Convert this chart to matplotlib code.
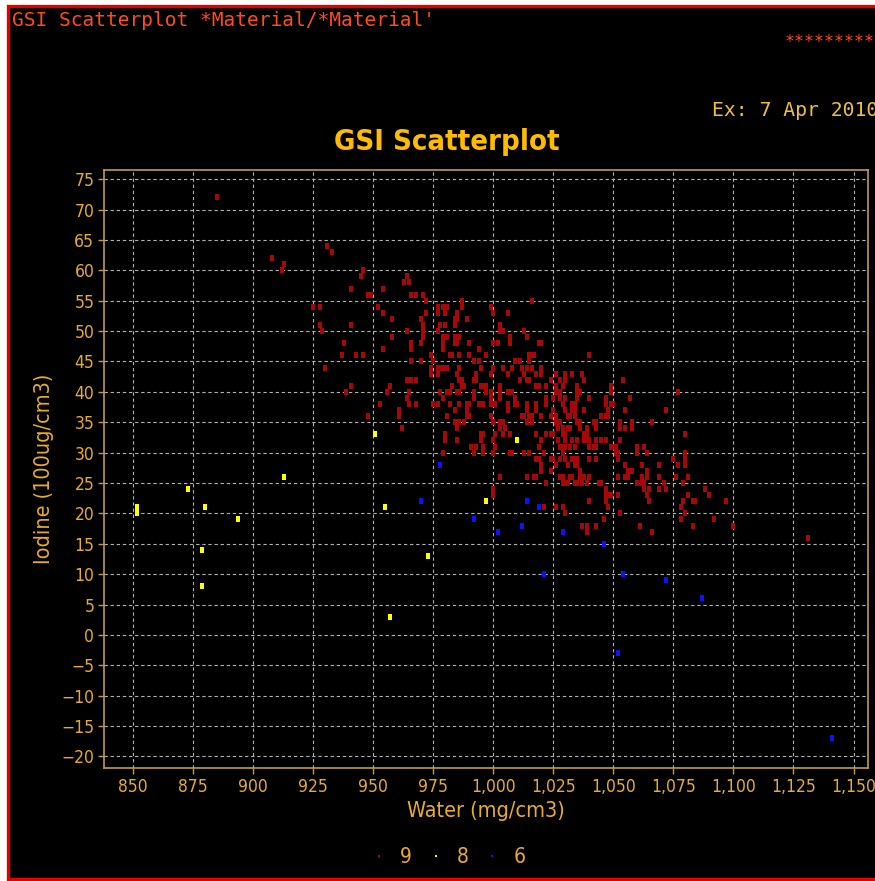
import matplotlib
matplotlib.use("Agg")
import matplotlib.pyplot as plt
from matplotlib.patches import Rectangle
from matplotlib.lines import Line2D
from matplotlib.ticker import FuncFormatter

# series "9" (red)
red_water = [
    885, 931, 933, 908, 913, 912, 946, 945, 941, 954, 948, 949, 925, 928, 952, 954, 958, 928, 929, 941,
    958, 938, 937, 943, 946, 954, 930, 941, 939, 957, 956, 953, 948, 961, 961,
    964, 963, 965, 966, 968, 971, 972, 970, 972, 977, 981, 979, 977, 980, 985, 978, 980, 984, 964, 971,
    971, 979, 979, 984, 984, 966, 966, 970, 979, 982, 983, 974, 975, 966, 970, 977, 978, 977, 974, 974,
    968, 986,
    987, 987, 985, 984, 989, 971, 977, 981, 986, 990, 994, 997, 999, 1000, 1006, 1003, 1004, 1007, 1007, 1013,
    1014, 1016, 1019, 1020, 1000, 1002, 990, 986, 994, 964, 966, 979, 981, 987, 988, 992, 993, 997, 996, 999,
    1000, 1004, 1006, 1008, 1011, 1014, 1015, 1009, 1011, 1015, 1016, 1017, 1012, 1013, 1020, 1020, 1022, 1024, 1019, 1026,
    1028, 1029, 1030, 1033, 965, 964, 965, 968, 962, 977, 978, 979, 982, 982, 981, 985, 985, 986, 985, 988,
    989, 989, 990, 992, 996, 995, 995, 996, 991, 993, 999, 1000, 1001, 1003, 1003, 1006, 1006, 1009, 1009, 1010,
    1008, 1014, 1014, 1016, 1016, 1013, 999, 1000, 1003, 1004, 1003, 1005, 1004, 1007, 1001, 1000, 1000, 1008, 1010, 1013,
    1018, 1022, 1022, 1022, 1024, 1025, 1026, 1027, 1029, 1032, 1028, 1031, 1033, 1029, 1033, 1034, 1035, 1025, 1026, 1028,
    1020, 1019, 1018, 1019, 1020, 1027, 1029, 1032, 1035, 1025, 1028, 1031, 1033, 1035, 1024, 1029, 1032, 1035, 1014, 1017,
    1022, 1003, 1000, 1000, 979, 996,
    1003, 985, 992, 995, 1015, 1014, 1016, 1018, 1018, 1030, 1037, 1038, 1026, 1028, 1035, 1035, 1040, 1040, 1054, 1049,
    1047, 1047, 1049, 1055, 1057, 1058, 986, 986, 981, 986, 992, 994, 989, 984, 999, 999, 1003, 1006, 1012, 1015,
    1001, 996, 1018, 1018, 1020, 1014, 1026, 1024, 1025, 1030, 1034, 1029, 1031, 1035, 1036, 1039, 1039, 1030, 1033, 1028,
    1029, 1038, 1040, 1043, 1043, 1047, 1048, 1045, 1047, 1053, 1053, 1055, 1058, 1050, 1051, 1052, 1042, 1043, 1040, 1021,
    980, 980, 992, 1007, 1015,
    1030, 1039, 1043, 1051, 1053, 1060, 1063, 1064, 1060, 1075, 1080, 1020, 1024, 1026, 1030, 1035, 1036, 1028, 1029, 1031,
    1033, 1036, 1038, 1040, 1018, 1045, 1047, 1047, 1049, 1052, 1052, 1056, 1055, 1056, 1062, 1062, 1069, 1069, 1062, 1063,
    1065, 1064, 1065, 1071, 1072, 1069, 1076, 1080, 1081, 1079, 1079, 1078, 1078, 1081, 1040, 1047, 1048, 1026, 1029, 1030,
    1021, 1046, 1053, 1037, 1039, 1039, 1043, 1061, 1066,
    1036, 1049, 1030, 1077, 1034, 1038, 1032, 1045, 1048, 1050, 1072, 1066, 1036, 1042, 1038, 1080, 1049, 1034, 1052, 1077,
    1080, 1030, 1034, 1034, 1040, 1043, 1037, 1055, 1058, 1064, 1064, 1030, 1034, 1037, 1039, 1044, 1048, 1060, 1063, 1080,
    1083, 1084, 1088, 1090, 1097, 1092, 1083, 1100, 1131,
    975, 984, 990, 985, 985, 993, 995, 987, 983, 997,
]
red_iodine = [
    72, 64, 63, 62, 61, 60, 60, 59, 57, 57, 56, 56, 54, 54, 54, 53, 52, 51, 50, 51,
    49, 48, 46, 46, 46, 47, 44, 41, 40, 41, 40, 38, 36, 37, 36,
    59, 58, 58, 56, 56, 56, 55, 52, 53, 54, 54, 54, 53, 53, 53, 51, 51, 52, 50, 50,
    49, 49, 48, 49, 48, 48, 47, 48, 47, 46, 46, 46, 45, 45, 45, 44, 44, 43, 44, 43,
    42, 46,
    55, 54, 52, 51, 52, 51, 50, 49, 49, 48, 47, 46, 54, 53, 53, 51, 50, 49, 48, 50,
    49, 55, 48, 48, 48, 48, 46, 44, 45, 42, 42, 44, 44, 42, 41, 42, 43, 41, 41, 43,
    44, 44, 43, 44, 42, 42, 42, 45, 45, 46, 46, 46, 44, 43, 44, 43, 41, 42, 41, 43,
    42, 41, 43, 43, 40, 39, 38, 38, 34, 38, 40, 39, 40, 38, 36, 35, 34, 35, 32, 35,
    38, 37, 36, 40, 38, 33, 32, 31, 31, 31, 40, 38, 38, 40, 39, 38, 37, 39, 38, 38,
    40, 38, 37, 36, 35, 36, 36, 35, 35, 35, 34, 34, 33, 33, 33, 32, 30, 30, 32, 30,
    33, 33, 39, 38, 36, 37, 36, 34, 34, 34, 35, 36, 37, 38, 38, 38, 40, 39, 40, 39,
    32, 31, 29, 29, 27, 32, 31, 31, 32, 29, 29, 28, 29, 28, 27, 26, 26, 25, 26, 26,
    25, 26, 24, 23, 30, 30,
    50, 48, 45, 44, 45, 44, 44, 43, 41, 42, 43, 42, 41, 40, 41, 39, 39, 46, 42, 41,
    39, 38, 38, 37, 39, 35, 42, 40, 40, 38, 39, 38, 36, 35, 39, 38, 41, 40, 36, 36,
    31, 33, 38, 37, 36, 35, 35, 33, 33, 37, 36, 33, 34, 35, 34, 34, 33, 32, 32, 31,
    30, 32, 32, 35, 34, 36, 37, 32, 32, 35, 34, 34, 34, 31, 30, 30, 31, 31, 31, 30,
    33, 32, 30, 30, 30,
    33, 32, 32, 31, 32, 31, 31, 30, 30, 29, 30, 28, 29, 28, 31, 29, 27, 26, 25, 25,
    26, 26, 26, 26, 26, 25, 24, 23, 23, 23, 26, 26, 28, 27, 28, 26, 28, 26, 25, 25,
    24, 23, 22, 25, 24, 24, 26, 28, 26, 25, 22, 21, 19, 23, 22, 22, 21, 21, 21, 20,
    21, 19, 20, 18, 18, 17, 18, 18, 17,
    40, 40, 39, 40, 37, 37, 36, 36, 36, 38, 37, 35, 35, 35, 33, 33, 31, 31, 29, 28,
    29, 29, 29, 28, 29, 29, 26, 26, 27, 27, 26, 25, 25, 25, 25, 25, 23, 25, 24, 20,
    22, 22, 24, 23, 22, 19, 18, 18, 16,
    38, 37, 38, 43, 40, 42, 41, 41, 41, 40,
]

# series "8" (yellow)
yellow_water = [852, 852, 873, 880, 879, 879, 894, 913, 951, 955, 957, 973, 997, 1010]
yellow_iodine = [21, 20, 24, 21, 14, 8, 19, 26, 33, 21, 3, 13, 22, 32]

# series "6" (blue)
blue_water = [978, 970, 992, 1002, 1012, 1014, 1019, 1021, 1029, 1046, 1054, 1052, 1072, 1087, 1141]
blue_iodine = [28, 22, 19, 17, 18, 22, 21, 10, 17, 15, 10, -3, 9, 6, -17]

series_names = ["9", "8", "6"]
series_colors = ["#a60808", "#ffff00", "#1010ff"]

x_ticks = list(range(850, 1151, 25))
y_ticks = list(range(-20, 76, 5))

gold = "#e8ad2a"
W, H = 875, 881

plt.rcParams["font.stretch"] = "condensed"

fig = plt.figure(figsize=(W / 100, H / 100), dpi=100, facecolor="white")

# black panel with red frame (right side runs off the picture)
fig.patches.append(Rectangle((8 / W, 1 - 879 / H), 1.0, (879 - 6) / H,
                             transform=fig.transFigure, facecolor="black",
                             edgecolor="#e00000", linewidth=2.4, zorder=-10))

ax = fig.add_axes([104 / W, 1 - 768 / H, (868 - 104) / W, (768 - 170) / H])
ax.set_facecolor("black")

# small upright dots, like the original
dot = [(-0.7, -1), (0.7, -1), (0.7, 1), (-0.7, 1)]
ax.scatter(red_water, red_iodine, s=15, marker=dot, color=series_colors[0], linewidths=0, zorder=3)
ax.scatter(yellow_water, yellow_iodine, s=15, marker=dot, color=series_colors[1], linewidths=0, zorder=4)
ax.scatter(blue_water, blue_iodine, s=15, marker=dot, color=series_colors[2], linewidths=0, zorder=4)

ax.set_xlim(838.1, 1156)
ax.set_ylim(-21.9, 76.5)
ax.set_xticks(x_ticks)
ax.set_yticks(y_ticks)
ax.xaxis.set_major_formatter(FuncFormatter(lambda v, p: f"{int(v):,}"))

ax.grid(True, color="#b4b4b4", linestyle=(0, (3, 2.5)), linewidth=0.8)
ax.set_axisbelow(True)
for s in ax.spines.values():
    s.set_color("#c09a48")
    s.set_linewidth(1.2)

ax.tick_params(colors="#c09a48", length=4, width=1, labelcolor=gold, labelsize=12.5, pad=3)

ax.set_xlabel("Water (mg/cm3)", color=gold, fontsize=15.5, labelpad=4)
ax.set_ylabel("Iodine (100ug/cm3)", color=gold, fontsize=15.5, labelpad=5)

fig.text(447 / W, 1 - 142 / H, "GSI Scatterplot", color="#ffbb00", fontsize=21,
         fontweight="bold", ha="center", va="center")

mono = "DejaVu Sans Mono"
fig.text(12 / W, 1 - 21 / H, "GSI Scatterplot *Material/*Material'", color="#ff4d1a",
         fontsize=14, family=mono, ha="left", va="center")
fig.text(785 / W, 1 - 42 / H, "*********", color="#ff4d1a", fontsize=12,
         family=mono, ha="left", va="center")
fig.text(712 / W, 1 - 110 / H, "Ex: 7 Apr 2010", color="#f0c040", fontsize=14.2,
         family=mono, ha="left", va="center")

handles = [Line2D([], [], linestyle="none", marker="s", markersize=2,
                  markerfacecolor=c, markeredgewidth=0) for c in series_colors]
fig.legend(handles, series_names, loc="center", bbox_to_anchor=(448 / W, 1 - 857 / H),
           ncol=3, frameon=False, handlelength=0.8, handletextpad=0.6,
           columnspacing=0.75, labelcolor=gold, prop={"size": 15})

fig.savefig("out.png", dpi=100, facecolor="white")
